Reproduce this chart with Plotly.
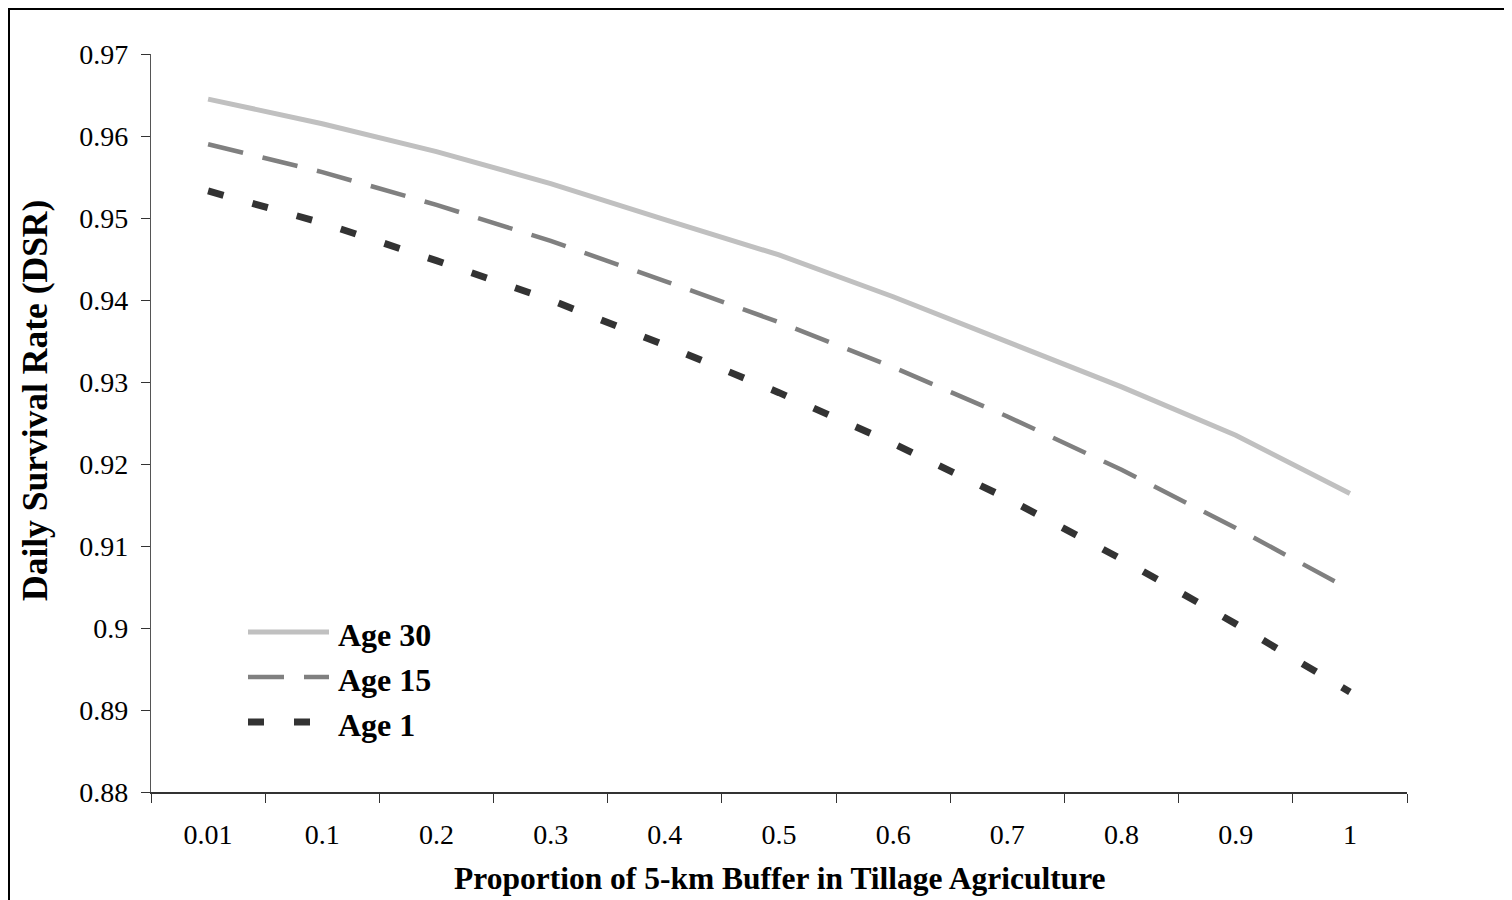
import plotly.graph_objects as go

categories = ["0.01", "0.1", "0.2", "0.3", "0.4", "0.5", "0.6", "0.7", "0.8", "0.9", "1"]
age30 = [0.9645, 0.9615, 0.9581, 0.9542, 0.9498, 0.9455, 0.9404, 0.9349, 0.9294, 0.9235, 0.9164]
age15 = [0.9590, 0.9556, 0.9516, 0.9472, 0.9423, 0.9373, 0.9318, 0.9258, 0.9193, 0.9122, 0.9047]
age1 = [0.9533, 0.9494, 0.9448, 0.9400, 0.9345, 0.9287, 0.9225, 0.9158, 0.9084, 0.9005, 0.8922]
series_names = ["Age 30", "Age 15", "Age 1"]

FONT = "Liberation Serif, Times New Roman, serif"
# the page adds an 8px body margin, so the figure is drawn 8px in and 8px down
OFF = 8
W, H = 1512 - OFF, 900 - OFF
PL, PR, PT, PB = 151, 1407, 54, 792  # plot area in page pixels (reference)
L, R, T, B = PL - OFF, W - (PR - OFF), PT - OFF, H - (PB - OFF)
PW, PH = W - L - R, H - T - B


def px(x):
    return (x - OFF - L) / PW


def py(y):
    return (H - B - (y - OFF)) / PH


styles = [
    dict(color="#c0c0c0", width=5, dash="solid"),
    dict(color="#808080", width=4.5, dash="36px,20px"),
    dict(color="#333333", width=7, dash="16px,30px"),
]

fig = go.Figure()
for name, vals, st in zip(series_names, [age30, age15, age1], styles):
    fig.add_trace(go.Scatter(x=categories, y=vals, mode="lines", name=name,
                             line=st, showlegend=False, hoverinfo="x+y+name"))

shapes = [
    dict(type="rect", xref="paper", yref="paper", x0=px(OFF + 1), x1=px(1530), y0=py(OFF + 1), y1=py(915),
         line=dict(color="black", width=2), fillcolor="rgba(0,0,0,0)", layer="above"),
]
annotations = []
leg_y = [632, 677, 722]
for name, st, yy in zip(series_names, styles, leg_y):
    shapes.append(dict(type="line", xref="paper", yref="paper", x0=px(248), x1=px(329),
                       y0=py(yy), y1=py(yy), line=st))
    annotations.append(dict(xref="paper", yref="paper", x=px(336), y=py(yy + 3), xanchor="left",
                            yanchor="middle", showarrow=False, text="<b>%s</b>" % name,
                            font=dict(family=FONT, size=32, color="black")))

annotations.append(dict(xref="paper", yref="paper", x=px(780), y=py(878), xanchor="center", yanchor="middle",
                        showarrow=False, text="<b>Proportion of 5-km Buffer in Tillage Agriculture</b>",
                        font=dict(family=FONT, size=31.5, color="black")))
annotations.append(dict(xref="paper", yref="paper", x=px(35), y=py(401), xanchor="center", yanchor="middle",
                        showarrow=False, textangle=-90, text="<b>Daily Survival Rate (DSR)</b>",
                        font=dict(family=FONT, size=35.5, color="black")))

fig.update_layout(
    width=W, height=H,
    margin=dict(l=L, r=R, t=T, b=B, pad=0),
    paper_bgcolor="white", plot_bgcolor="white",
    font=dict(family=FONT, size=28, color="black"),
    shapes=shapes, annotations=annotations,
    xaxis=dict(type="category", showgrid=False, zeroline=False, showline=True, linecolor="#333333",
               linewidth=1.5, ticks="outside", ticklen=9, tickcolor="#333333", tickson="boundaries",
               tickfont=dict(family=FONT, size=28), ticklabelstandoff=17, range=[-0.5, 10.5]),
    yaxis=dict(range=[0.88, 0.97], dtick=0.01, showgrid=False, zeroline=False, showline=True,
               linecolor="#555555", linewidth=1.2, ticks="outside", ticklen=9, tickcolor="#333333",
               tickfont=dict(family=FONT, size=28), ticklabelstandoff=7),
)

fig.write_html("out.html")
